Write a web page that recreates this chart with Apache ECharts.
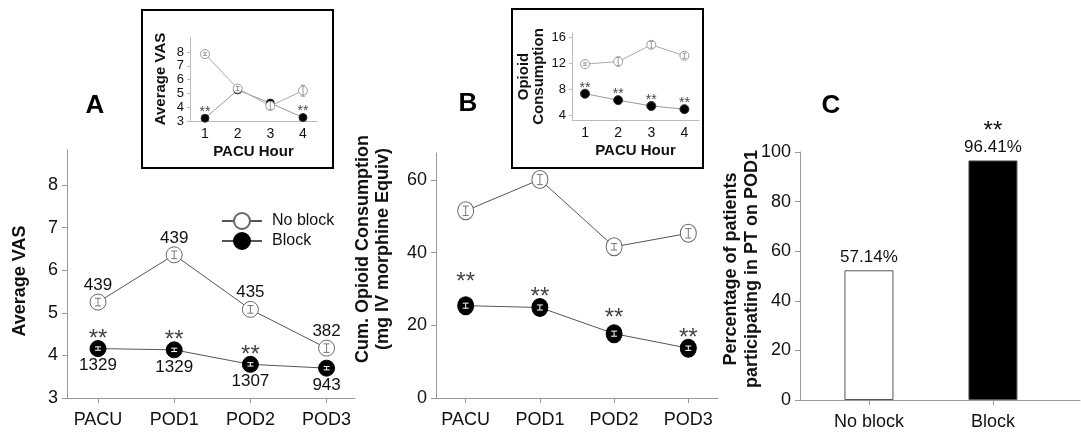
<!DOCTYPE html>
<html>
<head>
<meta charset="utf-8">
<script src="https://cdn.jsdelivr.net/npm/echarts@6/dist/echarts.min.js"></script>
<style>
  html, body { margin: 0; padding: 0; background: #fff; }
  #chart { width: 1081px; height: 435px; }
</style>
</head>
<body>
<div id="chart"></div>
<script>
// values
const phases = ['PACU', 'POD1', 'POD2', 'POD3'];
const phaseIdx = [0, 1, 2, 3];
const pacuHours = [1, 2, 3, 4];
const groups = ['No block', 'Block'];

// A: average VAS
const vasNoBlock = [5.25, 6.36, 5.08, 4.17];
const vasBlock = [4.16, 4.13, 3.79, 3.70];
const vasNoBlockErr = [0.09, 0.09, 0.09, 0.1];
const vasBlockErr = [0.04, 0.04, 0.04, 0.04];
const vasNNoBlock = [439, 439, 435, 382];
const vasNBlock = [1329, 1329, 1307, 943];
const vasSig = ['**', '**', '**', ''];
const vasTicks = [3, 4, 5, 6, 7, 8];

// A inset: VAS per PACU hour
const pacuVasNoBlock = [7.85, 5.35, 4.1, 5.2];
const pacuVasBlock = [3.2, 5.25, 4.3, 3.25];
const pacuVasNoBlockErr = [0.1, 0.15, 0.3, 0.4];
const pacuVasBlockErr = [0.05, 0.1, 0.1, 0.05];
const pacuVasSig = ['**', '', '', '**'];

// B: cumulative opioid consumption
const opioidNoBlock = [51.5, 60.1, 41.6, 45.3];
const opioidBlock = [25.4, 24.9, 17.7, 13.7];
const opioidNoBlockErr = [1.3, 1.4, 0.9, 1.3];
const opioidBlockErr = [0.7, 0.7, 0.7, 0.6];
const opioidSig = ['**', '**', '**', '**'];
const opioidTicks = [0, 20, 40, 60];

// B inset: opioid per PACU hour
const pacuOpioidNoBlock = [11.9, 12.3, 14.9, 13.2];
const pacuOpioidBlock = [7.3, 6.3, 5.4, 4.9];
const pacuOpioidNoBlockErr = [0.2, 0.7, 0.5, 0.4];
const pacuOpioidBlockErr = [0.15, 0.15, 0.15, 0.15];
const pacuOpioidSig = ['**', '**', '**', '**'];
const pacuOpioidTicks = [4, 8, 12, 16];

// C: PT participation on POD1
const ptRate = [52.3, 96.6];
const ptText = ['57.14%', '96.41%'];
const ptSig = ['', '**'];
const ptTicks = [0, 20, 40, 60, 80, 100];

const FONT = '"Liberation Sans", Arial, sans-serif';
const INK = '#111';

// how far the ** sits above each point (px)
const liftA = [9, 9, 9, 9];
const liftB = [23, 10, 15, 10];
const liftInset = [6, 6, 6, 6];

const chart = echarts.init(document.getElementById('chart'));

function xAx(grid, min, max, ticks, fmt, small) {
  return {
    type: 'value', gridIndex: grid, min: min, max: max,
    axisLine: { show: true, onZero: false, lineStyle: { color: small ? '#bbb' : '#999', width: 1 } },
    axisTick: { show: !small, customValues: ticks, length: 5, lineStyle: { color: '#999' } },
    axisLabel: {
      customValues: ticks, formatter: fmt, color: INK, fontFamily: FONT,
      fontSize: small ? 14 : 18, margin: small ? 6 : 13
    },
    splitLine: { show: false }
  };
}

function yAx(grid, min, max, ticks, small) {
  return {
    type: 'value', gridIndex: grid, min: min, max: max,
    axisLine: { show: true, onZero: false, lineStyle: { color: small ? '#bbb' : '#999', width: 1 } },
    axisTick: { show: true, customValues: ticks, length: small ? 3 : 5, lineStyle: { color: small ? '#bbb' : '#999' } },
    axisLabel: {
      customValues: ticks, color: INK, fontFamily: FONT, hideOverlap: false,
      fontSize: small ? 13 : 18, lineHeight: small ? 12 : 18, margin: small ? 6 : 9
    },
    splitLine: { show: false }
  };
}

function errBars(ai, xs, values, errs, color, half) {
  return {
    type: 'custom', xAxisIndex: ai, yAxisIndex: ai, silent: true, z: 4,
    data: values.map((v, i) => [xs[i], v - errs[i], v + errs[i]]),
    renderItem: function (params, api) {
      const lo = api.coord([api.value(0), api.value(1)]);
      const hi = api.coord([api.value(0), api.value(2)]);
      const st = { stroke: color, lineWidth: 1 };
      return {
        type: 'group',
        children: [
          { type: 'line', shape: { x1: lo[0], y1: lo[1], x2: hi[0], y2: hi[1] }, style: st },
          { type: 'line', shape: { x1: lo[0] - half, y1: lo[1], x2: lo[0] + half, y2: lo[1] }, style: st },
          { type: 'line', shape: { x1: hi[0] - half, y1: hi[1], x2: hi[0] + half, y2: hi[1] }, style: st }
        ]
      };
    }
  };
}

function stars(ai, xs, values, sig, size, lifts) {
  return {
    type: 'scatter', xAxisIndex: ai, yAxisIndex: ai, silent: true, z: 6,
    symbolSize: 1, itemStyle: { color: 'rgba(0,0,0,0)' },
    data: values.map((v, i) => ({ value: [xs[i], v], label: { offset: [0, -lifts[i]] } })),
    label: {
      show: true, position: 'inside', color: INK, fontFamily: FONT, fontSize: size,
      formatter: p => sig[p.dataIndex]
    }
  };
}

function lineSeries(name, ai, xs, values, opt) {
  return Object.assign({
    type: 'line', name: name, xAxisIndex: ai, yAxisIndex: ai,
    data: values.map((v, i) => [xs[i], v]),
    symbol: 'circle', silent: true
  }, opt);
}

const option = {
  animation: false,
  textStyle: { fontFamily: FONT },
  grid: [
    { left: 67, top: 150, width: 288, height: 248 },
    { left: 190, top: 37, width: 127, height: 84 },
    { left: 436, top: 153, width: 282, height: 245 },
    { left: 572, top: 33, width: 127, height: 87 },
    { left: 800, top: 152, width: 280, height: 248 }
  ],
  xAxis: [
    xAx(0, -0.407, 3.373, phaseIdx, v => phases[v], false),
    Object.assign(xAx(1, 0.54, 4.43, pacuHours, v => v, true), {
      name: 'PACU Hour', nameLocation: 'middle', nameGap: 23,
      nameTextStyle: { fontSize: 15, fontWeight: 'bold', color: INK }
    }),
    xAx(2, -0.40, 3.40, phaseIdx, v => phases[v], false),
    Object.assign(xAx(3, 0.607, 4.44, pacuHours, v => v, true), {
      name: 'PACU Hour', nameLocation: 'middle', nameGap: 23,
      nameTextStyle: { fontSize: 15, fontWeight: 'bold', color: INK }
    }),
    xAx(4, -0.556, 1.702, [0, 1], v => groups[v], false)
  ],
  yAxis: [
    yAx(0, 3, 8.82, vasTicks, false),
    Object.assign(yAx(1, 3, 9.09, vasTicks, true), {
      name: 'Average VAS', nameLocation: 'middle', nameGap: 22,
      nameTextStyle: { fontSize: 15, fontWeight: 'bold', color: INK }
    }),
    yAx(2, 0, 67.4, opioidTicks, false),
    Object.assign(yAx(3, 3.22, 16.73, pacuOpioidTicks, true), {
      name: 'Opioid\nConsumption', nameLocation: 'middle', nameGap: 26,
      nameTextStyle: { fontSize: 15, fontWeight: 'bold', color: INK, lineHeight: 15 }
    }),
    yAx(4, 0, 100, ptTicks, false)
  ],
  legend: {
    data: ['No block', 'Block'], orient: 'vertical', left: 216, top: 207,
    itemWidth: 40, itemHeight: 20, itemGap: 2, selectedMode: false,
    textStyle: { fontSize: 16, color: INK, fontFamily: FONT, padding: [0, 0, 0, 5] }
  },
  graphic: [
    { type: 'rect', silent: true, shape: { x: 142, y: 10, width: 191, height: 158 },
      style: { fill: 'none', stroke: '#000', lineWidth: 2 } },
    { type: 'rect', silent: true, shape: { x: 512, y: 9, width: 191, height: 159 },
      style: { fill: 'none', stroke: '#000', lineWidth: 2 } },
    { type: 'text', x: 95, y: 106, silent: true,
      style: { text: 'A', fill: '#000', font: 'bold 26px ' + FONT, align: 'center', verticalAlign: 'middle' } },
    { type: 'text', x: 468, y: 104, silent: true,
      style: { text: 'B', fill: '#000', font: 'bold 26px ' + FONT, align: 'center', verticalAlign: 'middle' } },
    { type: 'text', x: 831, y: 106, silent: true,
      style: { text: 'C', fill: '#000', font: 'bold 26px ' + FONT, align: 'center', verticalAlign: 'middle' } },
    { type: 'text', x: 20, y: 281, rotation: Math.PI / 2, silent: true,
      style: { text: 'Average VAS', fill: INK, font: 'bold 18px ' + FONT, align: 'center', verticalAlign: 'middle' } },
    { type: 'text', x: 373, y: 249, rotation: Math.PI / 2, silent: true,
      style: { text: 'Cum. Opioid Consumption\n(mg IV morphine Equiv)', fill: INK, font: 'bold 18px ' + FONT,
        lineHeight: 20, align: 'center', verticalAlign: 'middle' } },
    { type: 'text', x: 742, y: 269, rotation: Math.PI / 2, silent: true,
      style: { text: 'Percentage of patients\nparticipating in PT on POD1', fill: INK, font: 'bold 18px ' + FONT,
        lineHeight: 21, align: 'center', verticalAlign: 'middle' } }
  ],
  series: [
    // A main
    lineSeries('No block', 0, phaseIdx, vasNoBlock, {
      symbolSize: 16, lineStyle: { color: '#555', width: 1 },
      itemStyle: { color: '#fff', borderColor: '#666', borderWidth: 1 },
      label: { show: true, position: 'top', distance: 0, fontSize: 17, color: INK,
        formatter: p => vasNNoBlock[p.dataIndex] }
    }),
    lineSeries('Block', 0, phaseIdx, vasBlock, {
      symbolSize: 16, lineStyle: { color: '#555', width: 1 },
      itemStyle: { color: '#000', borderColor: '#000', borderWidth: 1 },
      label: { show: true, position: 'bottom', distance: 0, fontSize: 17, color: INK,
        formatter: p => vasNBlock[p.dataIndex] }
    }),
    errBars(0, phaseIdx, vasNoBlock, vasNoBlockErr, '#777', 3),
    errBars(0, phaseIdx, vasBlock, vasBlockErr, '#fff', 3),
    stars(0, phaseIdx, vasBlock, vasSig, 24, liftA),

    // A inset
    lineSeries('Block (PACU VAS)', 1, pacuHours, pacuVasBlock, {
      symbolSize: 8, lineStyle: { color: '#999', width: 1 },
      itemStyle: { color: '#000', borderColor: '#333', borderWidth: 1 }
    }),
    lineSeries('No block (PACU VAS)', 1, pacuHours, pacuVasNoBlock, {
      symbolSize: 9, lineStyle: { color: '#aaa', width: 1 },
      itemStyle: { color: '#fff', borderColor: '#999', borderWidth: 1 }
    }),
    errBars(1, pacuHours, pacuVasNoBlock, pacuVasNoBlockErr, '#999', 2),
    stars(1, pacuHours, pacuVasBlock, pacuVasSig, 14, liftInset),

    // B main
    lineSeries('No block (opioid)', 2, phaseIdx, opioidNoBlock, {
      symbolSize: [16, 18], lineStyle: { color: '#555', width: 1 },
      itemStyle: { color: '#fff', borderColor: '#666', borderWidth: 1 }
    }),
    lineSeries('Block (opioid)', 2, phaseIdx, opioidBlock, {
      symbolSize: [16, 18], lineStyle: { color: '#555', width: 1 },
      itemStyle: { color: '#000', borderColor: '#000', borderWidth: 1 }
    }),
    errBars(2, phaseIdx, opioidNoBlock, opioidNoBlockErr, '#777', 3),
    errBars(2, phaseIdx, opioidBlock, opioidBlockErr, '#fff', 3),
    stars(2, phaseIdx, opioidBlock, opioidSig, 24, liftB),

    // B inset
    lineSeries('No block (PACU opioid)', 3, pacuHours, pacuOpioidNoBlock, {
      symbolSize: 9, lineStyle: { color: '#aaa', width: 1 },
      itemStyle: { color: '#fff', borderColor: '#999', borderWidth: 1 }
    }),
    lineSeries('Block (PACU opioid)', 3, pacuHours, pacuOpioidBlock, {
      symbolSize: 9, lineStyle: { color: '#999', width: 1 },
      itemStyle: { color: '#000', borderColor: '#333', borderWidth: 1 }
    }),
    errBars(3, pacuHours, pacuOpioidNoBlock, pacuOpioidNoBlockErr, '#999', 2),
    stars(3, pacuHours, pacuOpioidBlock, pacuOpioidSig, 14, liftInset),

    // C
    {
      type: 'bar', name: 'PT on POD1', xAxisIndex: 4, yAxisIndex: 4, silent: true, barWidth: 49,
      data: ptRate.map((v, i) => [i, v]),
      itemStyle: { color: p => (p.dataIndex ? '#000' : '#fff'), borderColor: '#555', borderWidth: 1 },
      label: {
        show: true, position: 'top', distance: 4, color: INK,
        formatter: p => (ptSig[p.dataIndex] ? '{s|' + ptSig[p.dataIndex] + '}\n' : '') + '{v|' + ptText[p.dataIndex] + '}',
        rich: {
          s: { fontSize: 24, lineHeight: 14, color: INK, fontFamily: FONT },
          v: { fontSize: 17, lineHeight: 18, color: INK, fontFamily: FONT }
        }
      }
    }
  ]
};

chart.setOption(option);
</script>
</body>
</html>
